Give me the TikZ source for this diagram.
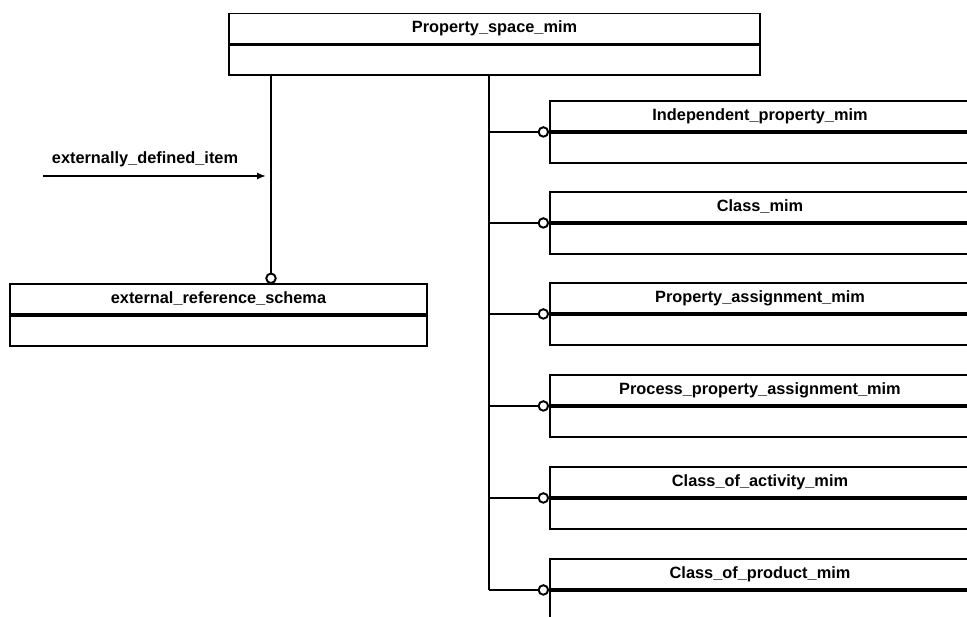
\documentclass[tikz,border=0pt]{standalone}
\usepackage{fontspec}
\setmainfont{Liberation Sans}
\usetikzlibrary{positioning,arrows.meta}

\begin{document}
\begin{tikzpicture}[x=0.02cm,y=-0.02cm]
\tikzset{entity/.style = {shape=rectangle, draw, line width=1.1pt, minimum height=0.6cm, inner sep=0pt, font=\fontsize{9.3}{10}\selectfont\bfseries},
	attrs/.style = {shape=rectangle, draw, line width=1.1pt, minimum height=0.6cm, inner sep=0pt},
	divider/.style = {line width=2pt},
	line/.style = {line width=1.1pt},
	link/.style = {line width=1.1pt, -{Circle[open, length=6.5pt]}}}

		\useasboundingbox (0,0) rectangle (967,617);
		\clip (0,0) rectangle (967,617);

		\node[entity, minimum width=10.62cm] (ps) at (494.5,28.5) {Property\_space\_mim};
		\node[attrs, minimum width=10.62cm, below=0pt of ps] (ps_a) {};
		\node[entity, minimum width=8.34cm] (ers) at (218.5,299) {external\_reference\_schema};
		\node[attrs, minimum width=8.34cm, below=0pt of ers] (ers_a) {};

		\node[entity, minimum width=8.4cm] (ip) at (760,116) {Independent\_property\_mim};
		\node[attrs, minimum width=8.4cm, below=0pt of ip] (ip_a) {};
		\node[entity, minimum width=8.4cm] (cm) at (760,207) {Class\_mim};
		\node[attrs, minimum width=8.4cm, below=0pt of cm] (cm_a) {};
		\node[entity, minimum width=8.4cm] (pa) at (760,298) {Property\_assignment\_mim};
		\node[attrs, minimum width=8.4cm, below=0pt of pa] (pa_a) {};
		\node[entity, minimum width=8.4cm] (ppa) at (760,390) {Process\_property\_assignment\_mim};
		\node[attrs, minimum width=8.4cm, below=0pt of ppa] (ppa_a) {};
		\node[entity, minimum width=8.4cm] (coa) at (760,482) {Class\_of\_activity\_mim};
		\node[attrs, minimum width=8.4cm, below=0pt of coa] (coa_a) {};
		\node[entity, minimum width=8.4cm] (cop) at (760,574) {Class\_of\_product\_mim};
		\node[attrs, minimum width=8.4cm, below=0pt of cop] (cop_a) {};

		% thick line under each entity name
		\draw[divider] (ps.south west) -- (ps.south east);
		\draw[divider] (ers.south west) -- (ers.south east);
		\draw[divider] (ip.south west) -- (ip.south east);
		\draw[divider] (cm.south west) -- (cm.south east);
		\draw[divider] (pa.south west) -- (pa.south east);
		\draw[divider] (ppa.south west) -- (ppa.south east);
		\draw[divider] (coa.south west) -- (coa.south east);
		\draw[divider] (cop.south west) -- (cop.south east);

		\coordinate (ers_in) at (271,284);
		\coordinate (trunk) at (489,73);
		\coordinate (edi_start) at (43,176);
		\coordinate (edi_end) at (266,176);

		\draw[link] (ps_a.south -| ers_in) -- (ers_in);
		\node[font=\fontsize{9.3}{10}\selectfont\bfseries] (edi) at (145,159) {externally\_defined\_item};
		\draw[line, -{Latex[length=5pt, width=4pt]}] (edi_start) -- (edi_end);

		\draw[line] (ps_a.south -| trunk) -- (trunk |- cop.south west);
		\draw[link] (trunk |- ip.south west) -- (ip.south west);
		\draw[link] (trunk |- cm.south west) -- (cm.south west);
		\draw[link] (trunk |- pa.south west) -- (pa.south west);
		\draw[link] (trunk |- ppa.south west) -- (ppa.south west);
		\draw[link] (trunk |- coa.south west) -- (coa.south west);
		\draw[link] (trunk |- cop.south west) -- (cop.south west);
	\end{tikzpicture}
\end{document}
